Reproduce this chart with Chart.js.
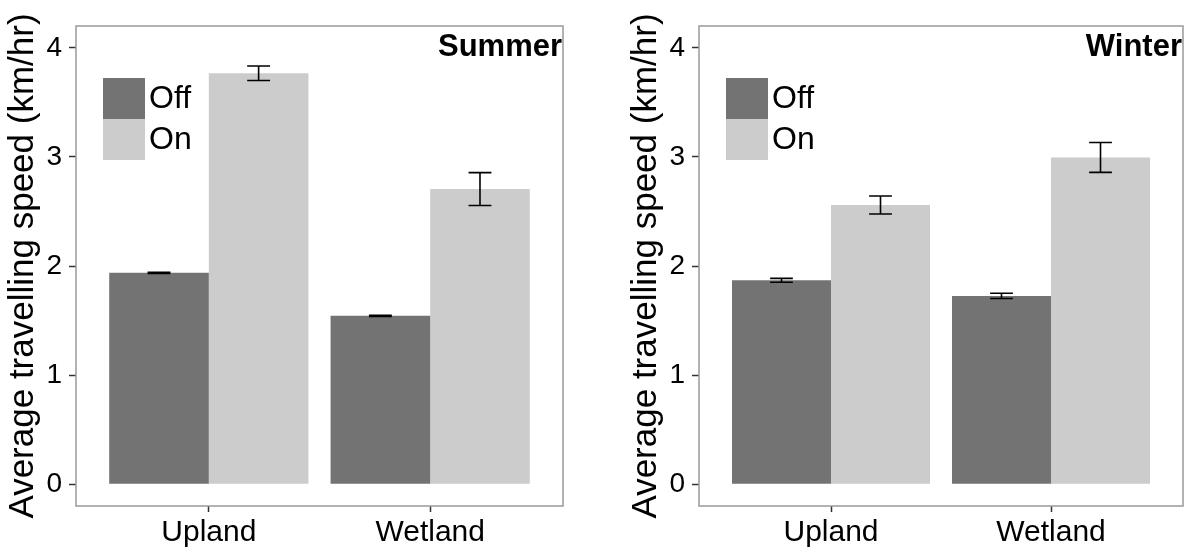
<!DOCTYPE html>
<html><head><meta charset="utf-8">
<script src="https://cdn.jsdelivr.net/npm/chart.js@4/dist/chart.umd.min.js"></script>
<style>
html,body{margin:0;padding:0;background:#fff;width:1191px;height:552px;overflow:hidden;}
.panel{position:absolute;top:0;height:552px;}
canvas{display:block;}
</style></head><body>
<div class="panel" style="left:0;width:566px"><canvas id="c1" width="566" height="552"></canvas></div>
<div class="panel" style="left:623px;width:563px"><canvas id="c2" width="563" height="552"></canvas></div>
<script>
const categories = ['Upland', 'Wetland'];
const seriesNames = ['Off', 'On'];
const yTicks = [0, 1, 2, 3, 4];
const panelTitles = ['Summer', 'Winter'];

const summerOff = [1.937, 1.543];
const summerOffErr = [0.006, 0.005];
const summerOn = [3.767, 2.705];
const summerOnErr = [0.067, 0.151];

const winterOff = [1.869, 1.726];
const winterOffErr = [0.018, 0.024];
const winterOn = [2.559, 2.995];
const winterOnErr = [0.083, 0.137];

const colorOff = '#737373';
const colorOn = '#cccccc';
const FONT = "'Liberation Sans', Arial, sans-serif";

const borderPlugin = {
  id: 'borderBox',
  afterDatasetsDraw(chart) {
    const a = chart.chartArea, ctx = chart.ctx;
    ctx.save();
    ctx.strokeStyle = '#999999';
    ctx.lineWidth = 1.5;
    ctx.strokeRect(a.left, a.top, a.right - a.left, a.bottom - a.top);
    ctx.restore();
  }
};

const errorPlugin = {
  id: 'errorBars',
  afterDatasetsDraw(chart) {
    const ctx = chart.ctx, ys = chart.scales.y;
    ctx.save();
    ctx.strokeStyle = '#000';
    ctx.lineWidth = 1.6;
    chart.data.datasets.forEach((ds, d) => {
      const meta = chart.getDatasetMeta(d);
      meta.data.forEach((el, i) => {
        const v = ds.data[i].y, e = ds.errors[i];
        const yt = ys.getPixelForValue(v + e), yb = ys.getPixelForValue(v - e);
        const hw = el.width * 0.115;
        ctx.beginPath();
        ctx.moveTo(el.x, yt); ctx.lineTo(el.x, yb);
        ctx.moveTo(el.x - hw, yt); ctx.lineTo(el.x + hw, yt);
        ctx.moveTo(el.x - hw, yb); ctx.lineTo(el.x + hw, yb);
        ctx.stroke();
      });
    });
    ctx.restore();
  }
};

const insidePlugin = {
  id: 'insideLegendTitle',
  afterDraw(chart, args, opts) {
    const a = chart.chartArea, ctx = chart.ctx;
    ctx.save();
    ctx.fillStyle = '#000';
    ctx.font = 'bold 31px ' + FONT;
    ctx.textAlign = 'right';
    ctx.textBaseline = 'alphabetic';
    ctx.fillText(opts.title, a.right - 1, a.top + 30);
    const bx = a.left + 27, by = a.top + 52, bw = 42, bh = 41;
    chart.data.datasets.forEach((ds, d) => {
      ctx.fillStyle = ds.backgroundColor;
      ctx.fillRect(bx, by + d * bh, bw, bh);
      ctx.fillStyle = '#000';
      ctx.font = '32px ' + FONT;
      ctx.textAlign = 'left';
      ctx.textBaseline = 'middle';
      ctx.fillText(ds.label, bx + bw + 4, by + d * bh + bh / 2 + 1);
    });
    ctx.restore();
  }
};

function makeChart(id, title, off, offErr, on, onErr) {
  return new Chart(document.getElementById(id), {
    type: 'bar',
    data: {
      datasets: [
        { label: seriesNames[0], data: off.map((v, i) => ({ x: i + 1, y: v })), errors: offErr,
          backgroundColor: colorOff, borderWidth: 0, categoryPercentage: 0.9, barPercentage: 1.0 },
        { label: seriesNames[1], data: on.map((v, i) => ({ x: i + 1, y: v })), errors: onErr,
          backgroundColor: colorOn, borderWidth: 0, categoryPercentage: 0.9, barPercentage: 1.0 }
      ]
    },
    options: {
      responsive: false,
      animation: false,
      layout: { padding: { top: 26, right: 3, bottom: 0, left: 0 } },
      plugins: {
        legend: { display: false },
        title: { display: false },
        tooltip: { enabled: false },
        insideLegendTitle: { title: title }
      },
      scales: {
        x: {
          type: 'linear', min: 0.4, max: 2.6, offset: false,
          afterBuildTicks: s => { s.ticks = categories.map((c, i) => ({ value: i + 1 })); },
          afterFit: s => { s.height = 46; },
          ticks: { callback: v => categories[v - 1], font: { family: FONT, size: 30 }, color: '#000', padding: 3, maxRotation: 0, autoSkip: false },
          grid: { offset: false, drawOnChartArea: false, drawTicks: true, tickLength: 6, tickColor: '#333', tickWidth: 1.5 },
          border: { display: false }
        },
        y: {
          min: -0.2, max: 4.2,
          afterBuildTicks: s => { s.ticks = yTicks.map(v => ({ value: v })); },
          afterFit: s => { s.width = 76; },
          ticks: { font: { family: FONT, size: 28 }, color: '#000', padding: 7 },
          grid: { drawOnChartArea: false, drawTicks: true, tickLength: 7, tickColor: '#333', tickWidth: 1.5 },
          border: { display: false },
          title: { display: true, text: 'Average travelling speed (km/hr)', font: { family: FONT, size: 35 }, color: '#000', padding: { top: 2, bottom: 0 } }
        }
      }
    },
    plugins: [borderPlugin, errorPlugin, insidePlugin]
  });
}

makeChart('c1', panelTitles[0], summerOff, summerOffErr, summerOn, summerOnErr);
makeChart('c2', panelTitles[1], winterOff, winterOffErr, winterOn, winterOnErr);
</script>
</body></html>
